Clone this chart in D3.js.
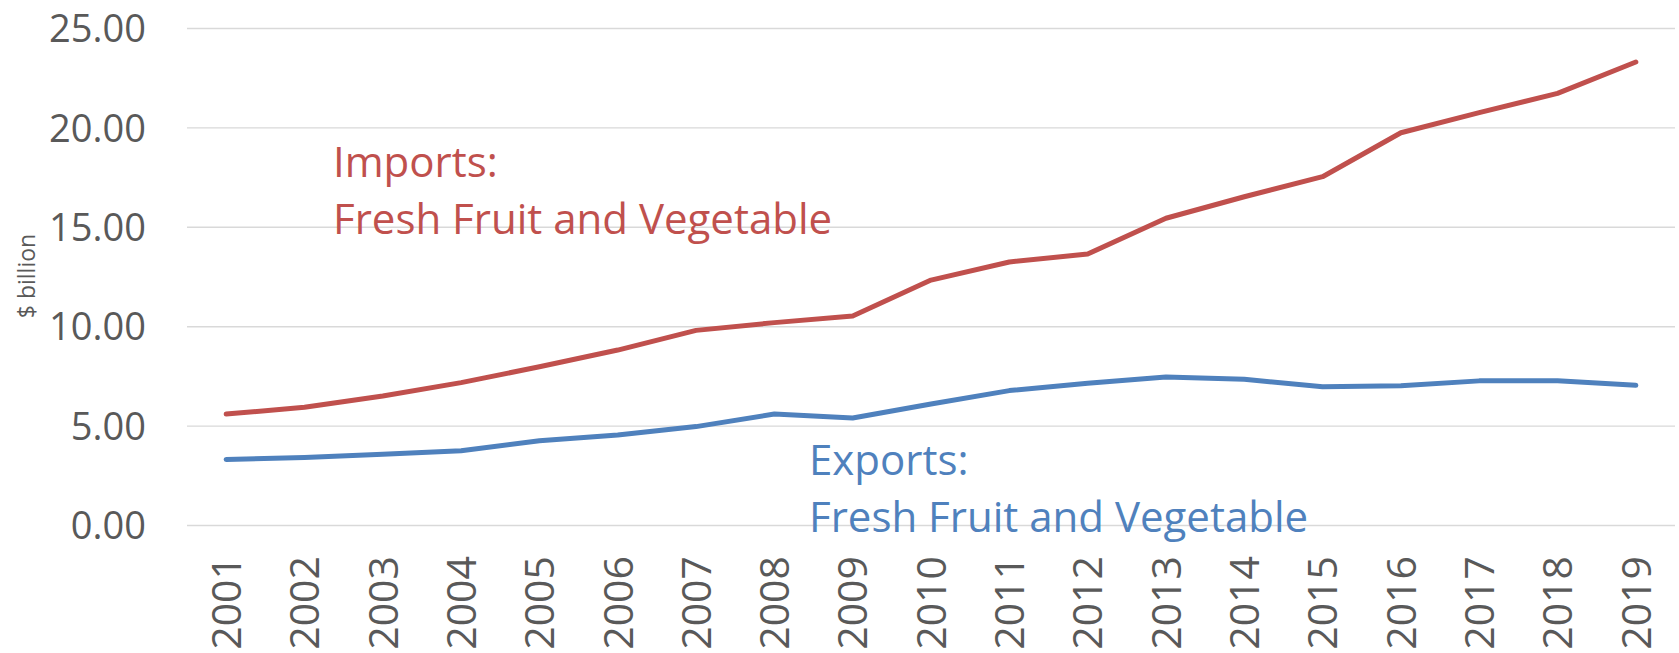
<!DOCTYPE html>
<html>
<head>
<meta charset="utf-8">
<script src="https://cdn.jsdelivr.net/npm/d3@7/dist/d3.min.js"></script>
<style>
  body { margin: 0; background: #ffffff; }
  svg text { font-family: "Open Sans", sans-serif; }
</style>
</head>
<body>
<script>
//chart data
var years = [2001, 2002, 2003, 2004, 2005, 2006, 2007, 2008, 2009, 2010,
             2011, 2012, 2013, 2014, 2015, 2016, 2017, 2018, 2019];
var importValues = [5.58, 5.92, 6.49, 7.16, 7.96, 8.80, 9.79, 10.18, 10.51, 12.32,
                    13.23, 13.63, 15.43, 16.51, 17.52, 19.73, 20.74, 21.71, 23.29];
var exportValues = [3.30, 3.39, 3.56, 3.74, 4.24, 4.53, 4.95, 5.58, 5.38, 6.09,
                    6.76, 7.13, 7.45, 7.33, 6.95, 7.00, 7.25, 7.25, 7.03];
var yTicks = [0, 5, 10, 15, 20, 25];
var importLabel = ["Imports:", "Fresh Fruit and Vegetable"];
var exportLabel = ["Exports:", "Fresh Fruit and Vegetable"];

drawChart();

function drawChart(){

    //frame dimensions
    var width = 1679,
        height = 653;

    var plotLeft = 187,
        plotRight = 1675,
        plotTop = 28,
        plotBottom = 525;

    var svg = d3.select("body")
        .append("svg")
        .attr("width", width)
        .attr("height", height);

    var x = d3.scaleBand()
        .domain(years)
        .range([plotLeft, plotRight]);

    var y = d3.scaleLinear()
        .domain([0, 25])
        .range([plotBottom, plotTop]);

    //value axis with gridlines
    var yAxis = d3.axisLeft(y)
        .tickValues(yTicks)
        .tickFormat(d3.format(".2f"))
        .tickSize(-(plotRight - plotLeft))
        .tickPadding(41);

    var gy = svg.append("g")
        .attr("class", "y-axis")
        .attr("transform", "translate(" + plotLeft + ",0)")
        .call(yAxis);

    gy.select(".domain").remove();
    gy.selectAll("line")
        .attr("stroke", "#d9d9d9")
        .attr("stroke-width", 1.4);
    gy.selectAll("text")
        .attr("font-family", "Open Sans, sans-serif")
        .attr("font-size", 38)
        .attr("fill", "#595959")
        .attr("dy", "0.36em");

    //category axis, labels turned up
    var xAxis = d3.axisBottom(x)
        .tickSize(0)
        .tickPadding(0);

    var gx = svg.append("g")
        .attr("class", "x-axis")
        .attr("transform", "translate(0," + plotBottom + ")")
        .call(xAxis);

    gx.select(".domain").remove();
    gx.selectAll("text")
        .attr("font-family", "Open Sans, sans-serif")
        .attr("font-size", 41)
        .attr("fill", "#595959")
        .attr("text-anchor", "end")
        .attr("transform", "rotate(-90)")
        .attr("x", -31)
        .attr("y", 0)
        .attr("dy", "0.36em");

    //axis title
    svg.append("text")
        .attr("transform", "translate(27,276) rotate(-90)")
        .attr("text-anchor", "middle")
        .attr("dy", "0.36em")
        .attr("font-size", 23)
        .attr("fill", "#595959")
        .text("$ billion");

    //series lines
    var line = d3.line()
        .x(function(d, i){ return x(years[i]) + x.bandwidth() / 2; })
        .y(function(d){ return y(d); });

    svg.append("path")
        .datum(importValues)
        .attr("class", "imports")
        .attr("fill", "none")
        .attr("stroke", "#c0504d")
        .attr("stroke-width", 5)
        .attr("stroke-linecap", "round")
        .attr("stroke-linejoin", "round")
        .attr("d", line);

    svg.append("path")
        .datum(exportValues)
        .attr("class", "exports")
        .attr("fill", "none")
        .attr("stroke", "#4f81bd")
        .attr("stroke-width", 5)
        .attr("stroke-linecap", "round")
        .attr("stroke-linejoin", "round")
        .attr("d", line);

    //series labels
    svg.append("text")
        .attr("font-size", 42)
        .attr("fill", "#c0504d")
        .selectAll("tspan")
        .data(importLabel)
        .enter()
        .append("tspan")
        .attr("x", 333)
        .attr("y", function(d, i){ return 177 + i * 57; })
        .text(function(d){ return d; });

    svg.append("text")
        .attr("font-size", 42)
        .attr("fill", "#4f81bd")
        .selectAll("tspan")
        .data(exportLabel)
        .enter()
        .append("tspan")
        .attr("x", 809)
        .attr("y", function(d, i){ return 475 + i * 57; })
        .text(function(d){ return d; });
};
</script>
</body>
</html>
